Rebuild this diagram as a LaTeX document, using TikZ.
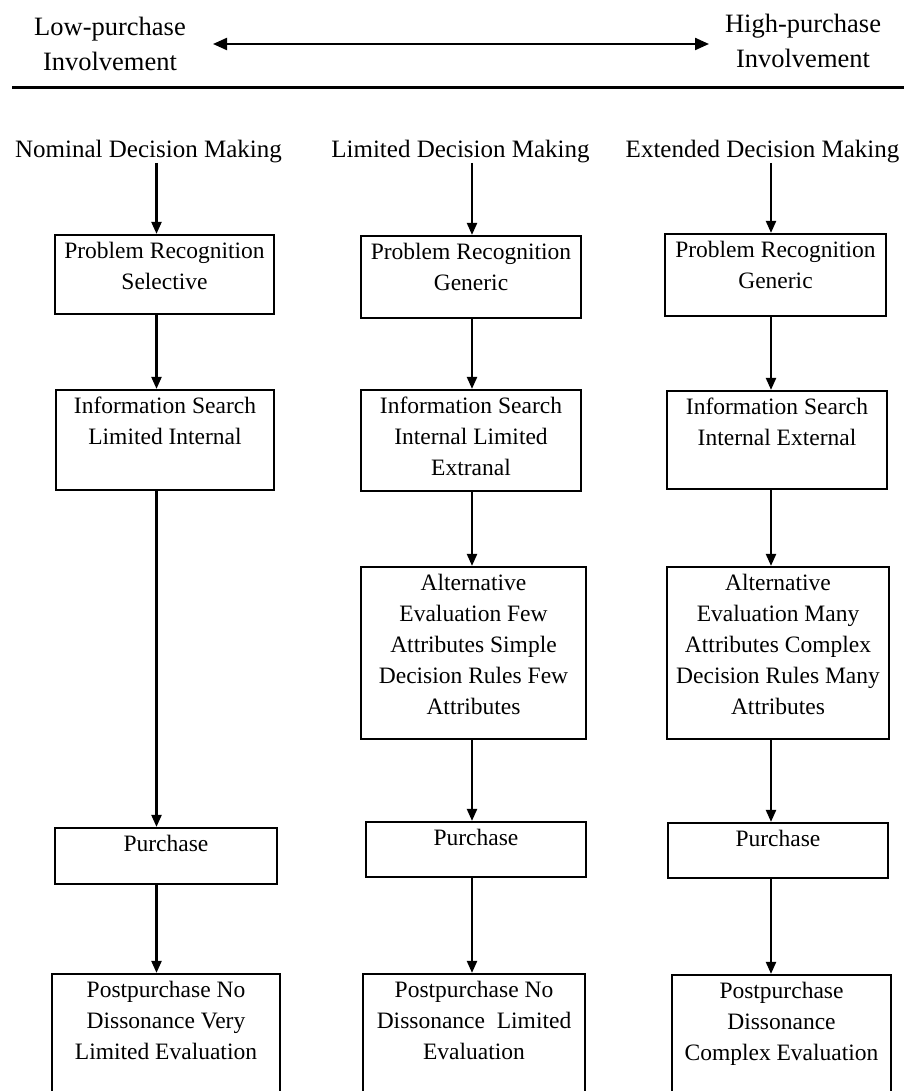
\documentclass[tikz,border=0pt]{standalone}
\usepackage{fontspec}
\setmainfont{Liberation Serif}
\usetikzlibrary{arrows.meta}

% A stage box given by its corners, with its text set from the top
\newcommand\flowbox[6]{%
  \node[box, minimum width={(#4-#2)*1pt}, minimum height={(#5-#3)*1pt}]
    (#1) at ({(#2+#4)/2},{(#3+#5)/2}) {};
  \node[txt] (#1t) at ([yshift=-3pt]#1.north) {\strut #6};
}

\tikzset{
  box/.style={draw, line width=2.2pt, inner sep=0pt},
  txt/.style={font=\fontsize{23.5}{31}\selectfont, align=center, inner sep=0pt, anchor=north},
  head/.style={font=\fontsize{25}{30}\selectfont, inner sep=0pt, anchor=base},
  endlbl/.style={font=\fontsize{26.5}{35}\selectfont, align=center, inner sep=0pt, anchor=north},
  flow/.style={line width=2.2pt, -{Triangle[length=12pt,width=10pt]}},
  involvearrow/.style={line width=2.2pt, {Triangle[length=14pt,width=12pt]}-{Triangle[length=14pt,width=12pt]}},
}

\begin{document}
\begin{tikzpicture}[x=1pt, y=-1pt]
\clip (0,0) rectangle (906,1091);
\fill[white] (0,0) rectangle (906,1091);

% involvement scale
\node[endlbl] (low) at (110,10.5) {\strut Low-purchase\\Involvement};
\node[endlbl] (high) at (803,7.5) {\strut High-purchase\\Involvement};
\coordinate (la) at (213,44);
\coordinate (ra) at (709,44);
\draw[involvearrow] (la) -- (ra);
\draw[line width=2.8pt] (12,87.5) -- (904,87.5);

% column headings
\node[head] (h1) at (148.5,157.3) {Nominal Decision Making};
\node[head] (h2) at (460.5,157.3) {Limited Decision Making};
\node[head] (h3) at (762.5,157.3) {Extended Decision Making};

% arrow lines of the three columns
\coordinate (c1) at (156.5,0);
\coordinate (c2) at (472,0);
\coordinate (c3) at (771,0);

% nominal decision making
\flowbox{pr1}{55}{235}{274}{314}{Problem Recognition\\Selective}
\flowbox{is1}{56}{390}{274}{490}{Information Search\\Limited Internal}
\flowbox{pu1}{55}{828}{277}{884}{Purchase}
\flowbox{po1}{52}{974}{280}{1120}{Postpurchase No\\Dissonance Very\\Limited Evaluation}

% limited decision making
\flowbox{pr2}{361}{236}{581}{318}{Problem Recognition\\Generic}
\flowbox{is2}{361}{390}{581}{491}{Information Search\\Internal Limited\\Extranal}
\flowbox{al2}{361}{567}{586}{739}{Alternative\\Evaluation Few\\Attributes Simple\\Decision Rules Few\\Attributes}
\flowbox{pu2}{366}{822}{586}{877}{Purchase}
\flowbox{po2}{363}{974}{585}{1120}{Postpurchase No\\Dissonance \ Limited\\Evaluation}

% extended decision making
\flowbox{pr3}{665}{234}{886}{316}{Problem Recognition\\Generic}
\flowbox{is3}{667}{391}{887}{489}{Information Search\\Internal External}
\flowbox{al3}{667}{567}{889}{739}{Alternative\\Evaluation Many\\Attributes Complex\\Decision Rules Many\\Attributes}
\flowbox{pu3}{668}{823}{888}{878}{Purchase}
\flowbox{po3}{672}{975}{891}{1120}{Postpurchase\\Dissonance\\Complex Evaluation}

% connectors
\draw[flow] (h1.south -| c1) -- (pr1.north -| c1);
\draw[flow] (pr1.south -| c1) -- (is1.north -| c1);
\draw[flow] (is1.south -| c1) -- (pu1.north -| c1);
\draw[flow] (pu1.south -| c1) -- (po1.north -| c1);

\draw[flow] (h2.south -| c2) -- (pr2.north -| c2);
\draw[flow] (pr2.south -| c2) -- (is2.north -| c2);
\draw[flow] (is2.south -| c2) -- (al2.north -| c2);
\draw[flow] (al2.south -| c2) -- (pu2.north -| c2);
\draw[flow] (pu2.south -| c2) -- (po2.north -| c2);

\draw[flow] (h3.south -| c3) -- (pr3.north -| c3);
\draw[flow] (pr3.south -| c3) -- (is3.north -| c3);
\draw[flow] (is3.south -| c3) -- (al3.north -| c3);
\draw[flow] (al3.south -| c3) -- (pu3.north -| c3);
\draw[flow] (pu3.south -| c3) -- (po3.north -| c3);
\end{tikzpicture}
\end{document}
